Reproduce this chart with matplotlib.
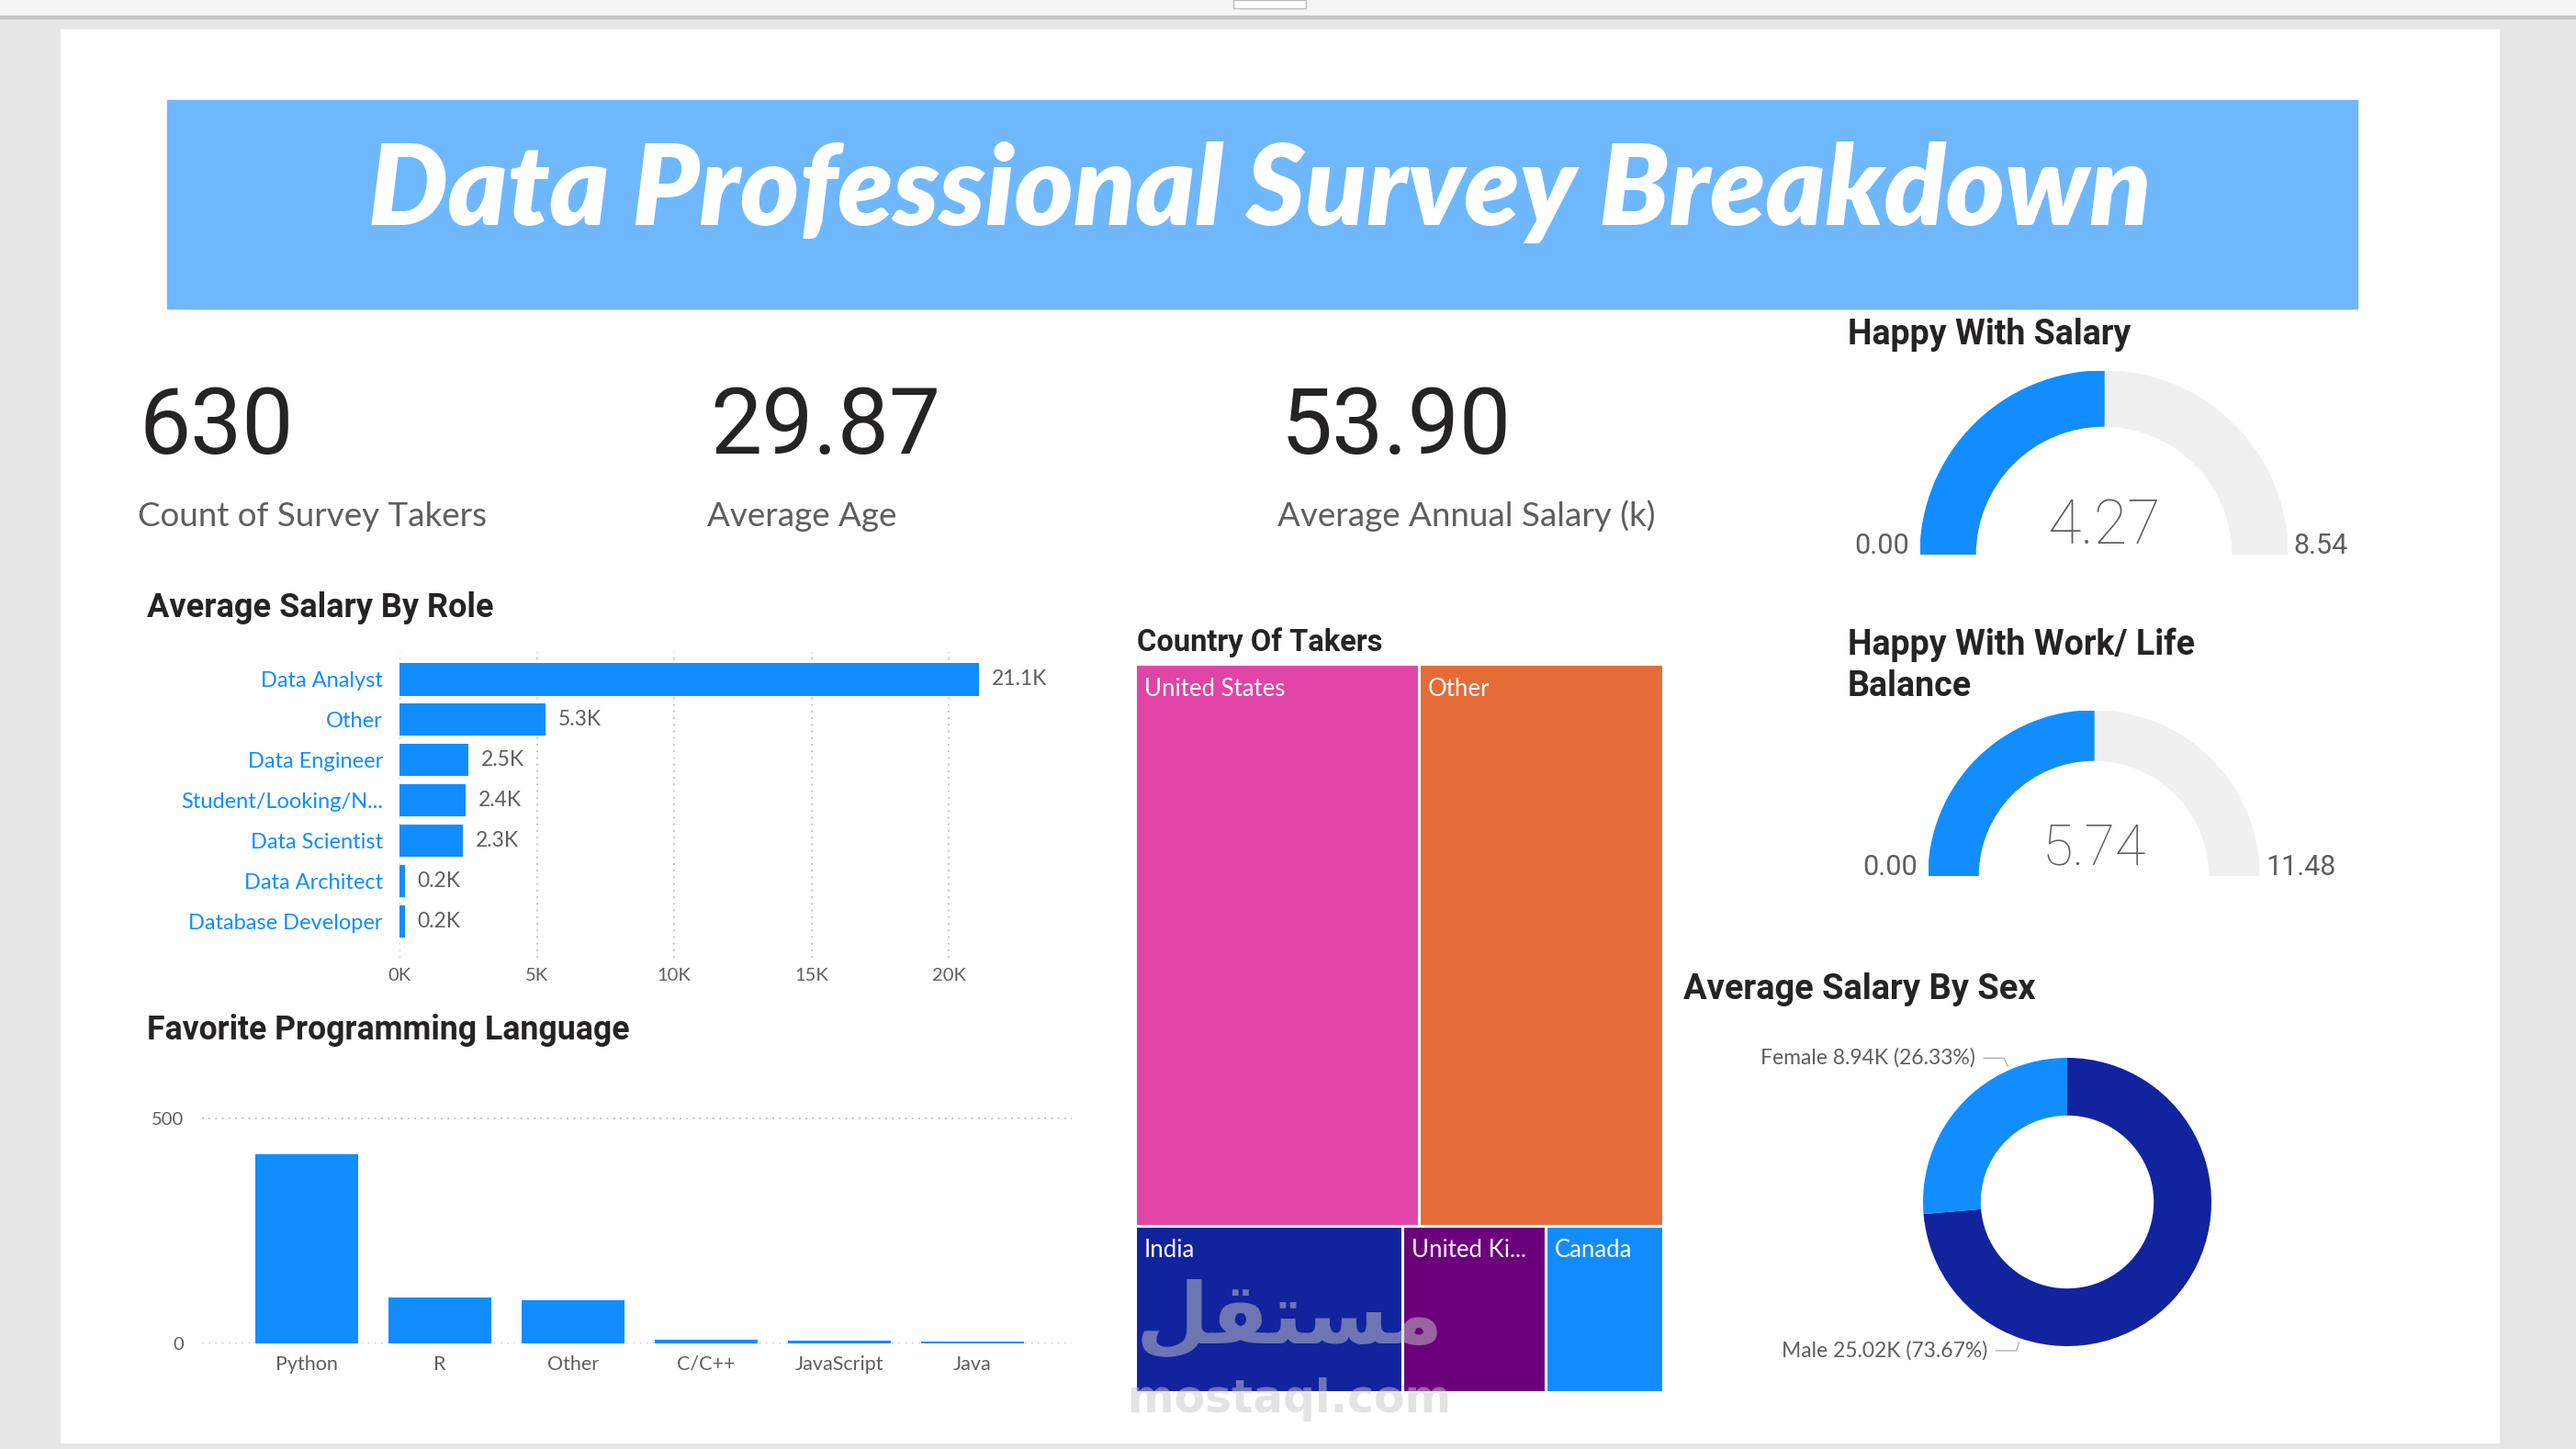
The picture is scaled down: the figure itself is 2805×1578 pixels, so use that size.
import matplotlib
matplotlib.use('Agg')
import matplotlib.pyplot as plt
from matplotlib.patches import Rectangle, Wedge
import numpy as np

W, H = 2805, 1578

# ---- data ----
kpi_values = ['630', '29.87', '53.90']
kpi_labels = ['Count of Survey Takers', 'Average Age', 'Average Annual Salary (k)']

roles = ['Data Analyst', 'Other', 'Data Engineer', 'Student/Looking/N...',
         'Data Scientist', 'Data Architect', 'Database Developer']
role_salary_k = [21.1, 5.3, 2.5, 2.4, 2.3, 0.2, 0.2]

languages = ['Python', 'R', 'Other', 'C/C++', 'JavaScript', 'Java']
language_counts = [421, 102, 96, 9, 6, 5]

countries = ['United States', 'Other', 'India', 'United Ki...', 'Canada']
country_counts = [261, 225, 73, 39, 32]
country_rows = [2, 3]

sexes = ['Male', 'Female']
sex_salary_k = [25.02, 8.94]

gauge_titles = ['Happy With Salary', 'Happy With Work/ Life\nBalance']
gauge_values = [4.27, 5.74]
gauge_max = [8.54, 11.48]

# ---- style ----
BLUE = '#118dff'
NAVY = '#12239e'
GRAY = '#605e5c'
DARK = '#252423'
TREE_COLORS = ['#e044a7', '#e66c37', '#12239e', '#6b007b', '#118dff']
TITLE_FONT = 'Roboto'
BODY_FONT = 'Lato'

fig = plt.figure(figsize=(W / 100, H / 100), dpi=100, facecolor='#e6e6e6')


def px_ax(x0, y0, x1, y1):
    return fig.add_axes([x0 / W, 1 - y1 / H, (x1 - x0) / W, (y1 - y0) / H])


def ftext(x, y, s, **kw):
    kw.setdefault('va', 'baseline')
    return fig.text(x / W, 1 - y / H, s, **kw)


def frect(x0, y0, x1, y1, **kw):
    fig.add_artist(Rectangle((x0 / W, 1 - y1 / H), (x1 - x0) / W, (y1 - y0) / H,
                             transform=fig.transFigure, **kw))


# page background pieces
frect(0, 0, W, 17, color='#f4f5f5', zorder=0)
frect(0, 17, W, 20, color='#c4c4c4', zorder=0)
frect(1343, 0, 1422, 9, facecolor='white', edgecolor='#bdbdbd', lw=1, zorder=1)
frect(66, 32, 2721, 1571, color='white', zorder=0)

# banner
frect(182, 109, 2567, 336, color='#6fb8fd', zorder=1)
ftext(1372, 245, 'Data Professional Survey Breakdown', ha='center', color='white',
      fontsize=88, fontweight='heavy', fontstyle='italic', family=BODY_FONT)

# KPI cards
for val, lab, xn, xl in zip(kpi_values, kpi_labels, [152, 773, 1395], [150, 770, 1391]):
    ftext(xn, 494, val, fontsize=72, fontweight='normal', color=DARK, family=TITLE_FONT)
    ftext(xl, 573, lab, fontsize=26.5, color=GRAY, family=BODY_FONT)

# section titles
for x, y, s, fs in [(160, 672, 'Average Salary By Role', 26),
                    (160, 1132, 'Favorite Programming Language', 25.7),
                    (1238, 709, 'Country Of Takers', 23.5),
                    (1833, 1088, 'Average Salary By Sex', 27.4),
                    (2012, 375, gauge_titles[0], 27)]:
    ftext(x, y, s, fontsize=fs, fontweight='bold', color=DARK, family=TITLE_FONT)
t1, t2 = gauge_titles[1].split('\n')
ftext(2012, 713, t1, fontsize=27, fontweight='bold', color=DARK, family=TITLE_FONT)
ftext(2012, 758, t2, fontsize=27, fontweight='bold', color=DARK, family=TITLE_FONT)

# ---- Average salary by role ----
ax = px_ax(435, 710, 1138, 1043)
y = np.arange(len(roles))
ax.barh(y, role_salary_k, height=0.8, color=BLUE, zorder=2)
ax.set_xlim(0, 23.5)
ax.set_ylim(len(roles) - 1 + 0.89, -0.68)
ax.set_xticks([0, 5, 10, 15, 20], ['0K', '5K', '10K', '15K', '20K'])
ax.set_yticks(y, roles)
ax.grid(axis='x', linestyle=(0, (1, 3)), color='#bdbdbd', lw=1.3)
ax.set_axisbelow(True)
for s in ax.spines.values():
    s.set_visible(False)
ax.tick_params(axis='y', length=0, pad=13, labelsize=17, labelcolor=BLUE)
ax.tick_params(axis='x', length=0, pad=8, labelsize=14.5, labelcolor=GRAY)
for lbl in ax.get_xticklabels() + ax.get_yticklabels():
    lbl.set_family(BODY_FONT)
for i, v in enumerate(role_salary_k):
    ax.annotate(f'{v:.1f}K', (v, i), xytext=(10, 0), textcoords='offset points',
                va='center', fontsize=16.5, color=GRAY, family=BODY_FONT)
ax.set_facecolor('none')

# ---- Favorite programming language ----
ax = px_ax(220, 1200, 1167, 1463)
x = np.arange(len(languages))
ax.bar(x, language_counts, width=0.77, color=BLUE, zorder=2)
ax.set_xlim(-0.786, len(languages) - 0.255)
ax.set_ylim(0, 536.7)
ax.set_yticks([0, 500])
ax.set_xticks(x, languages)
ax.grid(axis='y', linestyle=(0, (1, 3)), color='#bdbdbd', lw=1.3)
ax.set_axisbelow(True)
for s in ax.spines.values():
    s.set_visible(False)
ax.tick_params(axis='y', length=0, pad=14, labelsize=14.5, labelcolor=GRAY)
ax.tick_params(axis='x', length=0, pad=9, labelsize=15.5, labelcolor=GRAY)
for lbl in ax.get_xticklabels() + ax.get_yticklabels():
    lbl.set_family(BODY_FONT)
ax.set_facecolor('none')

# ---- Country treemap ----
ax = px_ax(1236, 723, 1811, 1516)
ax.set_xlim(0, 1)
ax.set_ylim(1, 0)
ax.axis('off')
total = sum(country_counts)
idx = 0
y0 = 0.0
for n in country_rows:
    vals = country_counts[idx:idx + n]
    h = sum(vals) / total
    x0 = 0.0
    for k in range(n):
        v = vals[k]
        w = v / sum(vals)
        ax.add_patch(Rectangle((x0, y0), w, h, facecolor=TREE_COLORS[idx + k],
                               edgecolor='white', lw=2.2))
        ax.annotate(countries[idx + k], (x0, y0), xytext=(7, -10.5), textcoords='offset points',
                    va='top', ha='left', color='white', fontsize=18.5, family=BODY_FONT)
        x0 += w
    y0 += h
    idx += n

# watermark
wm = dict(color='#c8c8c8', alpha=0.5, fontweight='bold', family='DejaVu Sans', ha='center')
ftext(1404, 1462, '\ufede\ufed8\ufe98\ufeb4\ufee3', fontsize=66, **wm)
ftext(1404, 1538, 'mostaql.com', fontsize=35, **wm)

# ---- Average salary by sex donut ----
ax = px_ax(2094, 1152, 2408, 1466)
wedges, _ = ax.pie(sex_salary_k, colors=[NAVY, BLUE], startangle=90, counterclock=False,
                   radius=1, wedgeprops=dict(width=0.4, linewidth=0))
ax.set_xlim(-1, 1)
ax.set_ylim(-1, 1)
tot = sum(sex_salary_k)
for wdg, name, v in zip(wedges, sexes, sex_salary_k):
    ang = np.deg2rad(wdg.theta1 + 0.25 * (wdg.theta2 - wdg.theta1))
    p = 1.03 * np.array([np.cos(ang), np.sin(ang)])
    e = 1.09 * np.array([np.cos(ang), np.sin(ang)])
    ax.plot([e[0] - 0.14, e[0], p[0]], [e[1], e[1], p[1]], color='#b3b3b3', lw=1, clip_on=False)
    ax.text(e[0] - 0.2, e[1], f'{name} {v:.2f}K ({v / tot * 100:.2f}%)', ha='right',
            va='center', fontsize=16.5, color=GRAY, family=BODY_FONT, clip_on=False)

# ---- Gauges ----
gauge_geom = [(2291, 604, 200, 48, 2079, 2497), (2280, 954, 180, 44, 2088, 2467)]
for (cx, cy, R, vsize, xl, xr), val, vmax in zip(gauge_geom, gauge_values, gauge_max):
    ax = px_ax(cx - R, cy - R, cx + R, cy)
    ax.set_xlim(-1, 1)
    ax.set_ylim(0, 1)
    ax.axis('off')
    ax.add_patch(Wedge((0, 0), 1, 0, 180, width=0.3, color='#f0f0f0'))
    frac = val / vmax
    ax.add_patch(Wedge((0, 0), 1, 180 - 180 * frac, 180, width=0.3, color=BLUE))
    ftext(cx, cy - 12, f'{val:.2f}', ha='center', fontsize=vsize, fontweight='light',
          color=GRAY, family=TITLE_FONT)
    ftext(xl, cy - 1, '0.00', ha='right', fontsize=22, color=GRAY, family=TITLE_FONT)
    ftext(xr, cy - 1, f'{vmax:.2f}', ha='left', fontsize=22, color=GRAY, family=TITLE_FONT)

fig.savefig('out.png', dpi=100, facecolor=fig.get_facecolor())
